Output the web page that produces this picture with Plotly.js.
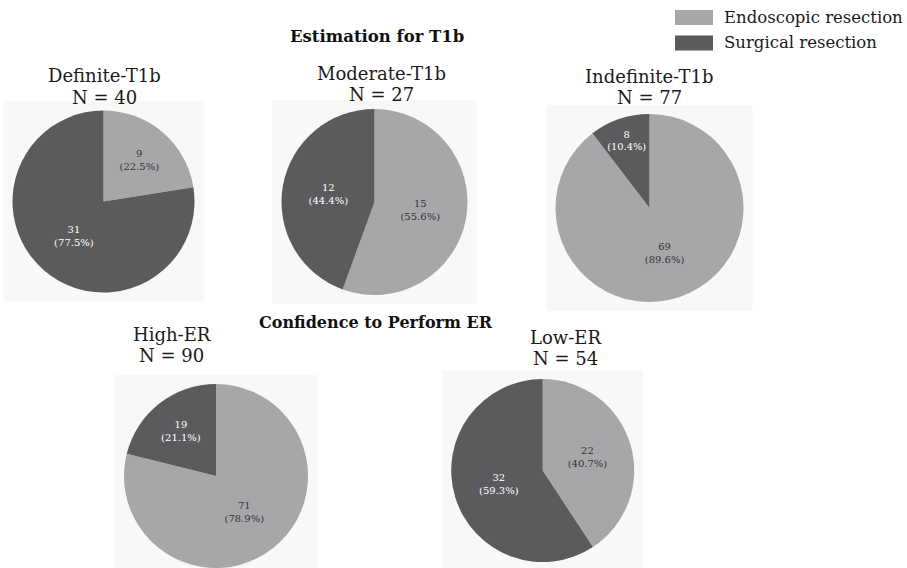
<!DOCTYPE html>
<html><head><meta charset="utf-8">
<script src="https://cdn.plot.ly/plotly-3.0.1.min.js"></script>
<style>html,body{margin:0;padding:0;background:#fff}#c{width:907px;height:568px}</style>
</head><body><div id="c"></div>
<script>
// Data
const seriesLabels = ['Endoscopic resection', 'Surgical resection'];
const groupNames = ['Definite-T1b', 'Moderate-T1b', 'Indefinite-T1b', 'High-ER', 'Low-ER'];
const endoscopic = [9, 15, 69, 71, 22];
const surgical = [31, 12, 8, 19, 32];
const sectionTitles = ['Estimation for T1b', 'Confidence to Perform ER'];

const W = 907, H = 568;
const colors = ['#a7a7aa', '#5b5b5d'];
const textColors = ['#333333', '#ffffff'];
const FONT = 'DejaVu Serif, Liberation Serif, serif';

// layout geometry (pixels): pie centre/radius, title centre x and line y's
const geo = [
  {cx: 103.5, cy: 201.5, r: 91, tx: 104, ty1: 75, ty2: 97},
  {cx: 374.5, cy: 202, r: 93, tx: 381.5, ty1: 73, ty2: 95},
  {cx: 649.5, cy: 208, r: 94, tx: 649, ty1: 76, ty2: 97},
  {cx: 216, cy: 476, r: 92, tx: 171.5, ty1: 334, ty2: 355},
  {cx: 542.7, cy: 470.5, r: 91.5, tx: 565, ty1: 337, ty2: 358}
];

const traces = [];
const annotations = [];
const shapes = [];
groupNames.forEach((name, i) => {
  const g = geo[i];
  const vals = [endoscopic[i], surgical[i]];
  traces.push({
    type: 'pie',
    labels: seriesLabels,
    values: vals,
    sort: false,
    direction: 'clockwise',
    rotation: 0,
    textposition: 'inside',
    insidetextorientation: 'horizontal',
    texttemplate: '%{value}<br>(%{percent:.1%})',
    insidetextfont: {family: FONT, size: 10, color: textColors},
    marker: {colors: colors, line: {width: 0}},
    showlegend: false,
    domain: {
      x: [(g.cx - g.r) / W, (g.cx + g.r) / W],
      y: [Math.max(0, (H - g.cy - g.r) / H), Math.min(1, (H - g.cy + g.r) / H)]
    }
  });
  const total = endoscopic[i] + surgical[i];
  annotations.push({
    xref: 'paper', yref: 'paper', x: g.tx / W, y: 1 - g.ty1 / H,
    xanchor: 'center', yanchor: 'middle', showarrow: false,
    text: name, font: {family: FONT, size: 18, color: '#1a1a1a'}
  });
  annotations.push({
    xref: 'paper', yref: 'paper', x: g.tx / W, y: 1 - g.ty2 / H,
    xanchor: 'center', yanchor: 'middle', showarrow: false,
    text: 'N = ' + total, font: {family: FONT, size: 18, color: '#1a1a1a'}
  });
  const pad = 9;
  shapes.push({
    type: 'rect', xref: 'paper', yref: 'paper', layer: 'below',
    x0: (g.cx - g.r - pad) / W, x1: (g.cx + g.r + pad) / W,
    y0: Math.max(0, (H - g.cy - g.r - pad) / H), y1: (H - g.cy + g.r + pad) / H,
    fillcolor: '#f8f8f8', line: {width: 0}
  });
});

// Section titles
annotations.push({xref: 'paper', yref: 'paper', x: 377 / W, y: 1 - 37 / H, showarrow: false,
  xanchor: 'center', yanchor: 'middle', text: '<b>' + sectionTitles[0] + '</b>',
  font: {family: FONT, size: 16.5, color: '#111'}});
annotations.push({xref: 'paper', yref: 'paper', x: 376 / W, y: 1 - 322 / H, showarrow: false,
  xanchor: 'center', yanchor: 'middle', text: '<b>' + sectionTitles[1] + '</b>',
  font: {family: FONT, size: 16, color: '#111'}});

// Legend
const legY = [17.5, 43];
seriesLabels.forEach((lab, k) => {
  shapes.push({type: 'rect', xref: 'paper', yref: 'paper',
    x0: 675 / W, x1: 713 / W, y0: 1 - (legY[k] + 7.5) / H, y1: 1 - (legY[k] - 7.5) / H,
    fillcolor: colors[k], line: {width: 0}});
  annotations.push({xref: 'paper', yref: 'paper', x: 722 / W, y: 1 - legY[k] / H,
    xanchor: 'left', yanchor: 'middle', showarrow: false, text: lab,
    font: {family: FONT, size: 16.5, color: '#1a1a1a'}});
});

const layout = {
  width: W, height: H,
  margin: {l: 0, r: 0, t: 0, b: 0},
  paper_bgcolor: '#ffffff',
  annotations: annotations,
  shapes: shapes,
  showlegend: false
};
Plotly.newPlot('c', traces, layout, {displayModeBar: false, staticPlot: true});
</script></body></html>
